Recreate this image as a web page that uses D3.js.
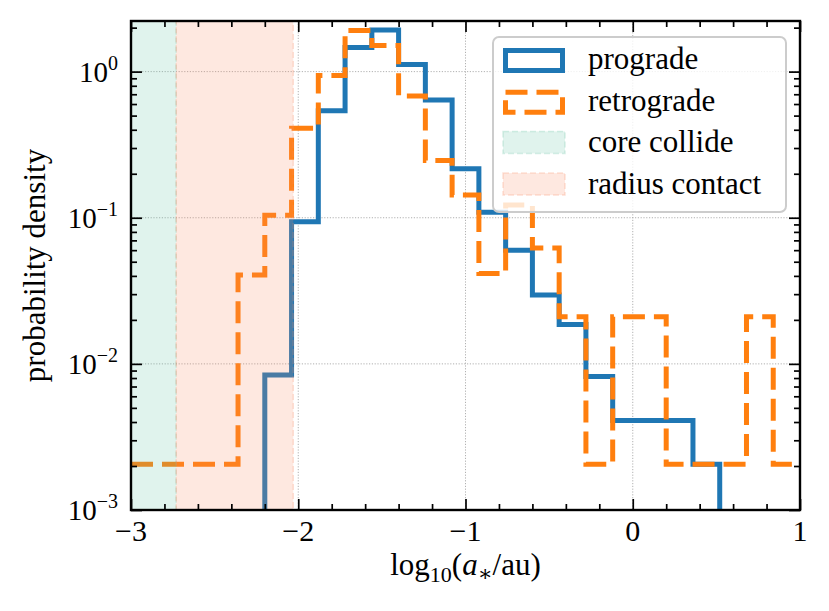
<!DOCTYPE html>
<html>
<head>
<meta charset="utf-8">
<script src="https://cdn.jsdelivr.net/npm/d3@7"></script>
<style>
  body { margin: 0; background: #fff; }
  text { font-family: "Liberation Serif", "DejaVu Serif", serif; fill: #000; }
</style>
</head>
<body>
<div id="chart"></div>
<script>
// histogram bins in log10(a/au), 25 equal bins on [-3, 1]
var binEdges = [-3.00, -2.84, -2.68, -2.52, -2.36, -2.20, -2.04, -1.88, -1.72, -1.56, -1.40,
                -1.24, -1.08, -0.92, -0.76, -0.60, -0.44, -0.28, -0.12, 0.04, 0.20,
                0.36, 0.52, 0.68, 0.84, 1.00];

// probability density per bin (0 = empty bin)
var prograde = [0, 0, 0, 0, 0, 0.0084, 0.094, 0.54, 1.46, 1.93, 1.12, 0.64, 0.216,
                0.109, 0.060, 0.0296, 0.0186, 0.0082, 0.0041, 0.0041, 0.0041, 0.00206, 0, 0, 0];
var retrograde = [0.00206, 0.00206, 0.00206, 0.00206, 0.0405, 0.104, 0.41, 0.94, 1.91, 1.51,
                  0.68, 0.246, 0.143, 0.0416, 0.122, 0.062, 0.021, 0.00206, 0.021, 0.021,
                  0.00206, 0.00206, 0.00206, 0.021, 0.00206];

// shaded regions
var coreCollide = [-3.3, -2.73];
var radiusContact = [-2.73, -2.03];

// ticks
var xTickVals = [-3, -2, -1, 0, 1];
var xTickLabels = ["\u22123", "\u22122", "\u22121", "0", "1"];
var yTickVals = [1e-3, 1e-2, 1e-1, 1];
var yTickExps = ["\u22123", "\u22122", "\u22121", "0"];

var legendNames = ["prograde", "retrograde", "core collide", "radius contact"];

var blue = "#1f77b4", orange = "#ff7f0e", green = "#66c2a5", salmon = "#fc8d62";

// set the dimensions and margins of the graph
var margin = {top: 21, right: 29, bottom: 101, left: 131},
    width = 829 - margin.left - margin.right,
    height = 611 - margin.top - margin.bottom;

var svg = d3.select("#chart")
  .append("svg")
    .attr("width", width + margin.left + margin.right)
    .attr("height", height + margin.top + margin.bottom)
  .append("g")
    .attr("transform", "translate(" + margin.left + "," + margin.top + ")");

var x = d3.scaleLinear().domain([-3, 1]).range([0, width]);
var y = d3.scaleLog().domain([1e-3, 2.22]).range([height, 0]);

svg.append("clipPath").attr("id", "plotclip")
  .append("rect").attr("width", width).attr("height", height);

// grid at major ticks
svg.selectAll(".gx").data(xTickVals).enter().append("line")
    .attr("x1", function(d){ return x(d); }).attr("x2", function(d){ return x(d); })
    .attr("y1", 0).attr("y2", height)
    .attr("stroke", "#a8a8a8").attr("stroke-width", 0.9).attr("stroke-dasharray", "1.2,1.6");
svg.selectAll(".gy").data(yTickVals).enter().append("line")
    .attr("x1", 0).attr("x2", width)
    .attr("y1", function(d){ return y(d); }).attr("y2", function(d){ return y(d); })
    .attr("stroke", "#a8a8a8").attr("stroke-width", 0.9).attr("stroke-dasharray", "1.2,1.6");

var plot = svg.append("g").attr("clip-path", "url(#plotclip)");

// step histograms
function stepData(vals) {
  return binEdges.map(function(e, i) {
    return {x: e, v: vals[Math.min(i, vals.length - 1)]};
  });
}
var step = d3.line()
  .curve(d3.curveStepAfter)
  .x(function(d){ return x(d.x); })
  .y(function(d){ return d.v > 0 ? y(d.v) : height + 20; });

plot.append("path")
  .datum(stepData(prograde))
  .attr("fill", "none")
  .attr("stroke", blue)
  .attr("stroke-width", 5)
  .attr("d", step);

plot.append("path")
  .datum(stepData(retrograde))
  .attr("fill", "none")
  .attr("stroke", orange)
  .attr("stroke-width", 5)
  .attr("stroke-dasharray", "22,9")
  .attr("d", step);

// shaded spans (drawn over the lines, translucent)
[[coreCollide, green], [radiusContact, salmon]].forEach(function(s) {
  plot.append("rect")
    .attr("x", x(s[0][0])).attr("width", x(s[0][1]) - x(s[0][0]))
    .attr("y", -5).attr("height", height + 10)
    .attr("fill", s[1]).attr("fill-opacity", 0.2)
    .attr("stroke", s[1]).attr("stroke-opacity", 0.25)
    .attr("stroke-width", 1.5).attr("stroke-dasharray", "6,3");
});

// ticks on all four sides, pointing inward
var xMinor = x.ticks(20).filter(function(d){ return xTickVals.indexOf(d) < 0; });
var yMinor = y.ticks().filter(function(d){
  return yTickVals.every(function(t){ return Math.abs(t - d) / t > 1e-6; });
});

function tickAxis(axisFn, scale, vals, size, tr) {
  var g = svg.append("g").attr("transform", tr)
    .call(axisFn(scale).tickValues(vals).tickSize(-size).tickFormat(""));
  g.select(".domain").remove();
  g.selectAll("line").attr("stroke", "#000").attr("stroke-width", 1.7);
}
tickAxis(d3.axisBottom, x, xTickVals, 11, "translate(0," + height + ")");
tickAxis(d3.axisBottom, x, xMinor, 6, "translate(0," + height + ")");
tickAxis(d3.axisTop, x, xTickVals, 11, "translate(0,0)");
tickAxis(d3.axisTop, x, xMinor, 6, "translate(0,0)");
tickAxis(d3.axisLeft, y, yTickVals, 11, "translate(0,0)");
tickAxis(d3.axisLeft, y, yMinor, 6, "translate(0,0)");
tickAxis(d3.axisRight, y, yTickVals, 11, "translate(" + width + ",0)");
tickAxis(d3.axisRight, y, yMinor, 6, "translate(" + width + ",0)");

// frame
svg.append("rect")
  .attr("width", width).attr("height", height)
  .attr("fill", "none").attr("stroke", "#000").attr("stroke-width", 2.4);

// tick labels
svg.selectAll(".xl").data(xTickVals).enter().append("text")
  .attr("x", function(d){ return x(d); })
  .attr("y", height + 31)
  .attr("text-anchor", "middle")
  .attr("font-size", 30)
  .text(function(d, i){ return xTickLabels[i]; });

svg.selectAll(".yl").data(yTickVals).enter().append("text")
  .attr("x", -13)
  .attr("y", function(d){ return y(d) + 10; })
  .attr("text-anchor", "end")
  .attr("font-size", 29)
  .each(function(d, i) {
    var t = d3.select(this);
    t.append("tspan").text("10");
    t.append("tspan").attr("dy", -12).attr("font-size", 20).text(yTickExps[i]);
  });

// axis labels
var xl = svg.append("text")
  .attr("x", width / 2)
  .attr("y", height + 65)
  .attr("text-anchor", "middle")
  .attr("font-size", 31);
xl.append("tspan").text("log");
xl.append("tspan").attr("dy", 7).attr("font-size", 22).text("10");
xl.append("tspan").attr("dy", -7).text("(");
xl.append("tspan").attr("font-style", "italic").text("a");
xl.append("tspan").attr("dy", 6).attr("font-size", 22).text("\u2217");
xl.append("tspan").attr("dy", -6).text("/au)");

svg.append("text")
  .attr("transform", "translate(" + (45 - margin.left) + "," + (height / 2) + ") rotate(-90)")
  .attr("text-anchor", "middle")
  .attr("font-size", 31)
  .text("probability density");

// legend
var lg = svg.append("g").attr("transform", "translate(" + (493 - margin.left) + "," + (37 - margin.top) + ")");
lg.append("rect")
  .attr("width", 293).attr("height", 175).attr("rx", 6)
  .attr("fill", "#fff").attr("fill-opacity", 0.8)
  .attr("stroke", "#cccccc").attr("stroke-width", 2);

var rowY = function(i){ return 22 + i * 41.7; };
var styles = [
  {stroke: blue, fill: "none", dash: null, sw: 5, op: 1, fop: 0},
  {stroke: orange, fill: "none", dash: "22,9", sw: 5, op: 1, fop: 0},
  {stroke: green, fill: green, dash: "6,3", sw: 1.5, op: 0.25, fop: 0.2},
  {stroke: salmon, fill: salmon, dash: "6,3", sw: 1.5, op: 0.25, fop: 0.2}
];
legendNames.forEach(function(name, i) {
  var s = styles[i];
  var inset = s.sw > 2 ? 2.5 : 0;
  lg.append("rect")
    .attr("x", 10 + inset).attr("y", rowY(i) - 11 + inset)
    .attr("width", 62 - 2 * inset).attr("height", 22 - 2 * inset + (s.sw > 2 ? 3 : 0))
    .attr("fill", s.fill).attr("fill-opacity", s.fop)
    .attr("stroke", s.stroke).attr("stroke-opacity", s.op)
    .attr("stroke-width", s.sw)
    .attr("stroke-dasharray", s.dash);
  lg.append("text")
    .attr("x", 95)
    .attr("y", rowY(i) + 10)
    .attr("font-size", 31)
    .text(name);
});
</script>
</body>
</html>
